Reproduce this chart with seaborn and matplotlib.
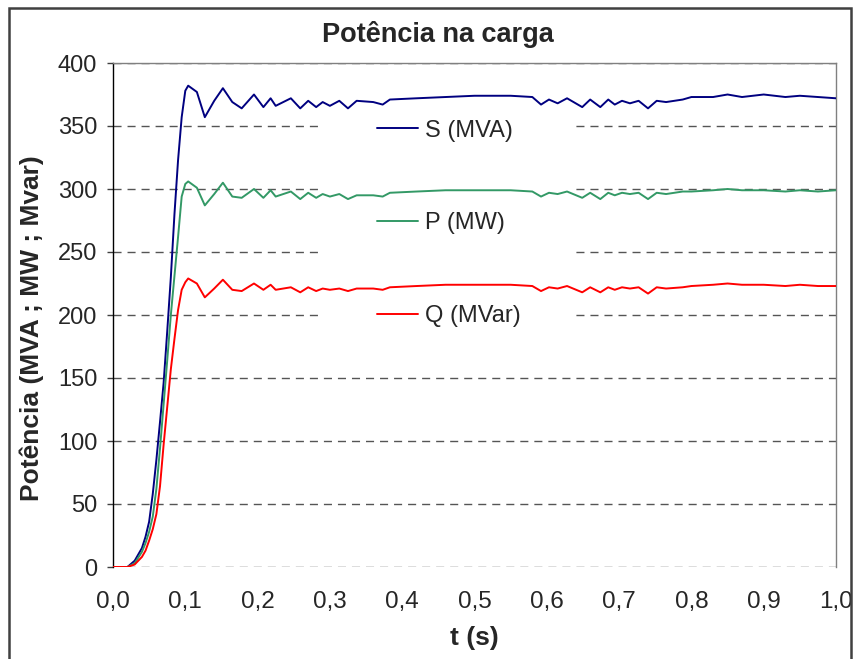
import matplotlib
matplotlib.use("Agg")
import matplotlib.pyplot as plt
from matplotlib.lines import Line2D
from matplotlib.patches import Rectangle
import pandas as pd
import seaborn as sns

# values
tempo = [0.0, 0.02, 0.03, 0.04, 0.045, 0.05, 0.055, 0.06, 0.065, 0.07,
         0.075, 0.08, 0.085, 0.09, 0.095, 0.1, 0.104, 0.116, 0.127, 0.14,
         0.152, 0.165, 0.178, 0.195, 0.208, 0.218, 0.225, 0.246, 0.259, 0.27,
         0.281, 0.29, 0.3, 0.313, 0.325, 0.337, 0.36, 0.373, 0.383, 0.42,
         0.46, 0.5, 0.55, 0.58, 0.592, 0.603, 0.615, 0.628, 0.649, 0.66,
         0.674, 0.685, 0.694, 0.704, 0.715, 0.727, 0.74, 0.752, 0.765, 0.788,
         0.8, 0.83, 0.85, 0.87, 0.9, 0.93, 0.95, 0.975, 1.0]
s_mva = [0, 0, 5, 15, 24, 36, 58, 85, 115, 146,
         187, 230, 280, 323, 357, 378, 382, 377, 357, 370,
         380, 369, 364, 375, 365, 372, 366, 372, 364, 370,
         365, 369, 366, 370, 364, 370, 369, 367, 371, 372,
         373, 374, 374, 373, 367, 371, 368, 372, 365, 371,
         365, 371, 367, 370, 368, 370, 364, 370, 369, 371,
         373, 373, 375, 373, 375, 373, 374, 373, 372]
p_mw = [0, 0, 3, 12, 19, 28, 40, 62, 94, 129,
        164, 200, 231, 262, 294, 304, 306, 301, 287, 296,
        305, 294, 293, 300, 293, 299, 294, 298, 292, 297,
        293, 296, 294, 296, 292, 295, 295, 294, 297, 298,
        299, 299, 299, 298, 294, 297, 296, 298, 293, 297,
        292, 297, 295, 297, 296, 297, 292, 297, 296, 298,
        298, 299, 300, 299, 299, 298, 299, 298, 299]
q_mvar = [0, 0, 2, 8, 13, 21, 30, 42, 64, 97,
          127, 157, 181, 204, 220, 226, 229, 225, 214, 221,
          228, 220, 219, 225, 220, 224, 220, 222, 218, 222,
          219, 221, 220, 221, 219, 221, 221, 220, 222, 223,
          224, 224, 224, 223, 219, 222, 221, 223, 218, 222,
          218, 222, 220, 222, 221, 222, 217, 222, 221, 222,
          223, 224, 225, 224, 224, 223, 224, 223, 223]

series_labels = ["S (MVA)", "P (MW)", "Q (MVar)"]
series_colors = ["#000080", "#339966", "#ff0000"]
y_ticks = [0, 50, 100, 150, 200, 250, 300, 350, 400]
x_ticks = [0.0, 0.1, 0.2, 0.3, 0.4, 0.5, 0.6, 0.7, 0.8, 0.9, 1.0]
x_tick_labels = ["0,0", "0,1", "0,2", "0,3", "0,4", "0,5",
                 "0,6", "0,7", "0,8", "0,9", "1,0"]

sns.set_style("white")
plt.rcParams["font.family"] = ["Liberation Sans", "DejaVu Sans"]

df = pd.DataFrame({"t": tempo, series_labels[0]: s_mva,
                   series_labels[1]: p_mw, series_labels[2]: q_mvar})
df = df.melt(id_vars="t", var_name="serie", value_name="valor")

fig = plt.figure(figsize=(8.54, 6.59), dpi=100)
ax = fig.add_axes([113 / 854, 1 - 567 / 659, 723 / 854, 504 / 659])

sns.lineplot(data=df, x="t", y="valor", hue="serie",
             palette=dict(zip(series_labels, series_colors)),
             estimator=None, sort=False, linewidth=1.4, legend=False,
             ax=ax, zorder=3)

ax.set_xlim(0, 1)
ax.set_ylim(0, 400)
ax.set_yticks(y_ticks)
ax.set_xticks(x_ticks, x_tick_labels)
ax.grid(axis="y", linestyle=(0, (5.8, 4.3)), color="#555555", linewidth=1)
ax.grid(axis="x", visible=False)
ax.set_axisbelow(True)
ax.tick_params(axis="y", length=4.3, width=1, color="#404040", pad=7,
               labelsize=17, left=True)
ax.tick_params(axis="x", length=0, pad=17.5, labelsize=17.5)

ax.spines["bottom"].set_visible(False)
ax.spines["left"].set_color("black")
ax.spines["left"].set_linewidth(1)
for side in ["top", "right"]:
    ax.spines[side].set_color("#808080")
    ax.spines[side].set_linewidth(1)

ax.set_xlabel("t (s)", fontsize=19, fontweight="bold")
ax.set_ylabel("Potência (MVA ; MW ; Mvar)", fontsize=19, fontweight="bold")
ax.xaxis.set_label_coords(0.5, -0.117)
ax.yaxis.set_label_coords(-0.096, 0.474)

# white block behind the legend, like the excel one
ax.add_patch(Rectangle((0.289, 0.47), 0.35, 0.44, transform=ax.transAxes,
                       facecolor="white", edgecolor="none", zorder=1))
handles = [Line2D([], [], color=c, linewidth=1.4) for c in series_colors]
ax.legend(handles, series_labels, loc="upper left",
          bbox_to_anchor=(0.3486, 0.911), frameon=False, fontsize=17,
          borderpad=0, handlelength=1.75, handletextpad=0.3,
          labelspacing=3.0)

fig.text(438 / 854, 1 - 35 / 659, "Potência na carga", ha="center",
         va="center", fontsize=19.5, fontweight="bold")

# chart border
fig.patches.append(Rectangle((9 / 854, -0.01), 842 / 854, 1 - 8 / 659 + 0.01,
                             transform=fig.transFigure, fill=False,
                             edgecolor="#404040", linewidth=1.8))

fig.savefig("out.png", dpi=100)
